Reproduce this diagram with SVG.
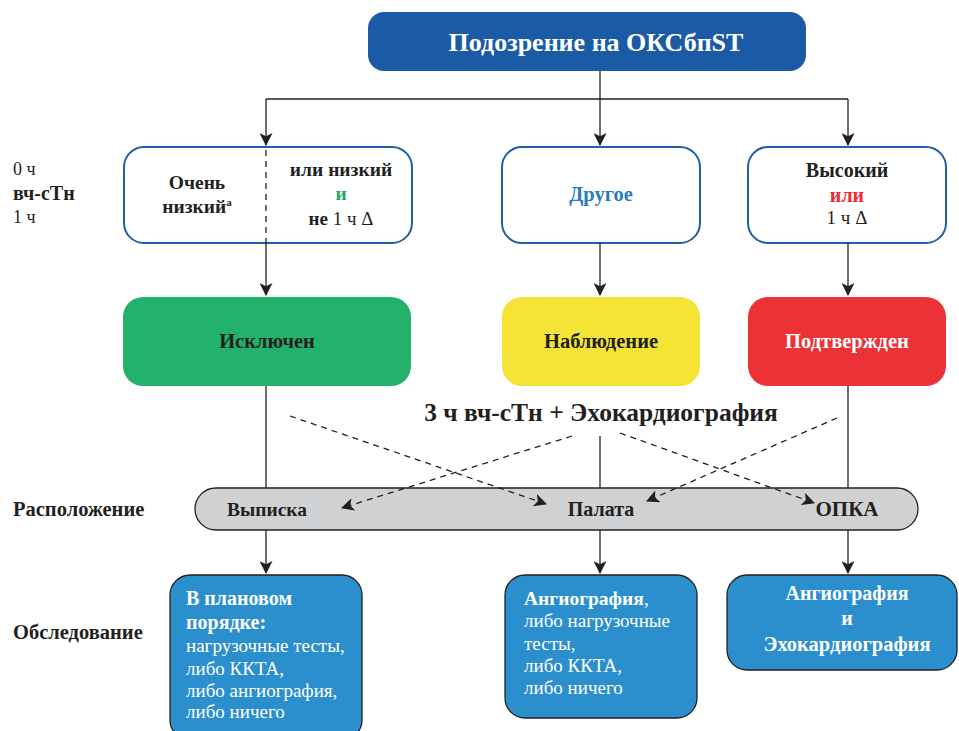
<svg xmlns="http://www.w3.org/2000/svg" width="959" height="731" viewBox="0 0 959 731" font-family="Liberation Serif, serif">
<defs>
<marker id="ah" viewBox="0 0 12 12" refX="11" refY="6" markerWidth="13" markerHeight="13" markerUnits="userSpaceOnUse" orient="auto">
<path d="M0,0 L12,6 L0,12 L3,6 Z" fill="#231f20"/>
</marker>
<style>
text{font-family:"Liberation Serif",serif;fill:#231f20}
.b{font-weight:bold}
.c{text-anchor:middle}
.w{fill:#fff}
.line{stroke:#231f20;stroke-width:1.3;fill:none}
.dash{stroke:#231f20;stroke-width:1.3;fill:none;stroke-dasharray:6 5}
.wbox{fill:#fff;stroke:#1f5fa8;stroke-width:2}
.bbox{fill:#2b8fce;stroke:#231f20;stroke-width:1.3}
</style>
</defs>
<rect width="959" height="731" fill="#fff"/>
<g id="n-top">
<rect x="368" y="12" width="438" height="59" rx="16" fill="#1b5aa5"/>
<text class="b c w" x="596" y="51" font-size="26">Подозрение на ОКСбпST</text>
</g>
<g id="labels-left">
<text x="13" y="175" font-size="18">0 ч</text>
<text class="b" x="13" y="200" font-size="20">вч-сТн</text>
<text x="13" y="223" font-size="18">1 ч</text>
<text class="b" x="13" y="516" font-size="20.5">Расположение</text>
<text class="b" x="13" y="639" font-size="20.5">Обследование</text>
</g>
<g id="n-low">
<rect class="wbox" x="124" y="147" width="288" height="96" rx="20"/>
<text class="b c" x="197" y="189" font-size="19.5">Очень</text>
<text class="b c" x="197" y="213" font-size="19.5">низкий<tspan font-size="11" dy="-7">а</tspan></text>
<text class="b c" x="341" y="176" font-size="19.5">или низкий</text>
<text class="b c" x="341" y="200" font-size="19.5" style="fill:#22a860">и</text>
<text class="c" x="341" y="225" font-size="19"><tspan class="b">не</tspan> 1 ч Δ</text>
</g>
<g id="n-other">
<rect class="wbox" x="502" y="147" width="198" height="96" rx="20"/>
<text class="b c" x="601" y="201" font-size="20.5" style="fill:#2a7cc1">Другое</text>
</g>
<g id="n-high">
<rect class="wbox" x="748" y="147" width="198" height="96" rx="20"/>
<text class="b c" x="847" y="177" font-size="20">Высокий</text>
<text class="b c" x="847" y="202" font-size="20" style="fill:#ec2b34">или</text>
<text class="c" x="847" y="224" font-size="19">1 ч Δ</text>
</g>
<g id="n-excluded">
<rect x="123" y="297" width="288" height="89" rx="20" fill="#23b26b"/>
<text class="b c" x="267" y="348" font-size="20.5">Исключен</text>
</g>
<g id="n-observe">
<rect x="502" y="297" width="198" height="89" rx="20" fill="#f3e435"/>
<text class="b c" x="601" y="348" font-size="20.5">Наблюдение</text>
</g>
<g id="n-confirmed">
<rect x="748" y="297" width="198" height="89" rx="20" fill="#ec3237"/>
<text class="b c w" x="847" y="348" font-size="20.5">Подтвержден</text>
</g>
<g id="n-echo-label">
<text class="b c" x="601" y="421" font-size="25.5">3 ч вч-сТн + Эхокардиография</text>
</g>
<g id="n-disposition">
<rect x="195" y="488" width="723" height="42" rx="21" fill="#d0d1d2" stroke="#231f20" stroke-width="1.3"/>
<text class="b c" x="267" y="516" font-size="19.5">Выписка</text>
<text class="b c" x="601" y="516" font-size="20">Палата</text>
<text class="b c" x="847" y="516" font-size="21">ОПКА</text>
</g>
<g id="n-planned">
<rect class="bbox" x="170" y="575" width="192" height="165" rx="20"/>
<text class="b w" x="186" y="605" font-size="20">В плановом</text>
<text class="b w" x="186" y="629" font-size="20">порядке:</text>
<text class="w" x="186" y="652" font-size="19">нагрузочные тесты,</text>
<text class="w" x="186" y="675" font-size="19">либо ККТА,</text>
<text class="w" x="186" y="697" font-size="19">либо ангиография,</text>
<text class="w" x="186" y="718" font-size="19">либо ничего</text>
</g>
<g id="n-ward">
<rect class="bbox" x="505" y="575" width="192" height="143" rx="20"/>
<text class="w" x="524" y="605" font-size="19.5"><tspan class="b">Ангиография</tspan>,</text>
<text class="w" x="524" y="627" font-size="19">либо нагрузочные</text>
<text class="w" x="524" y="650" font-size="19">тесты,</text>
<text class="w" x="524" y="672" font-size="19">либо ККТА,</text>
<text class="w" x="524" y="694" font-size="19">либо ничего</text>
</g>
<g id="n-icu">
<rect class="bbox" x="727" y="575" width="230" height="95" rx="20"/>
<text class="b c w" x="847" y="600" font-size="20">Ангиография</text>
<text class="b c w" x="847" y="625" font-size="20">и</text>
<text class="b c w" x="847" y="651" font-size="20.5">Эхокардиография</text>
</g>
<g id="connectors">
<path class="line" d="M600,71 V145" marker-end="url(#ah)"/>
<path class="line" d="M266,99 H848"/>
<path class="line" d="M266,99 V145" marker-end="url(#ah)"/>
<path class="line" d="M848,99 V145" marker-end="url(#ah)"/>
<path class="dash" d="M266,150 V243" stroke-dasharray="4 3"/>
<path class="line" d="M266,243 V295" marker-end="url(#ah)"/>
<path class="line" d="M600,243 V295" marker-end="url(#ah)"/>
<path class="line" d="M848,243 V295" marker-end="url(#ah)"/>
<path class="line" d="M266,386 V488"/>
<path class="line" d="M600,436 V488"/>
<path class="line" d="M848,386 V488"/>
<path class="dash" d="M290,416 L546,504" marker-end="url(#ah)"/>
<path class="dash" d="M572,436 L342,508" marker-end="url(#ah)"/>
<path class="dash" d="M620,433 L814,503" marker-end="url(#ah)"/>
<path class="dash" d="M837,418 L647,501" marker-end="url(#ah)"/>
<path class="line" d="M266,530 V573" marker-end="url(#ah)"/>
<path class="line" d="M600,530 V573" marker-end="url(#ah)"/>
<path class="line" d="M848,530 V573" marker-end="url(#ah)"/>
</g>
</svg>
